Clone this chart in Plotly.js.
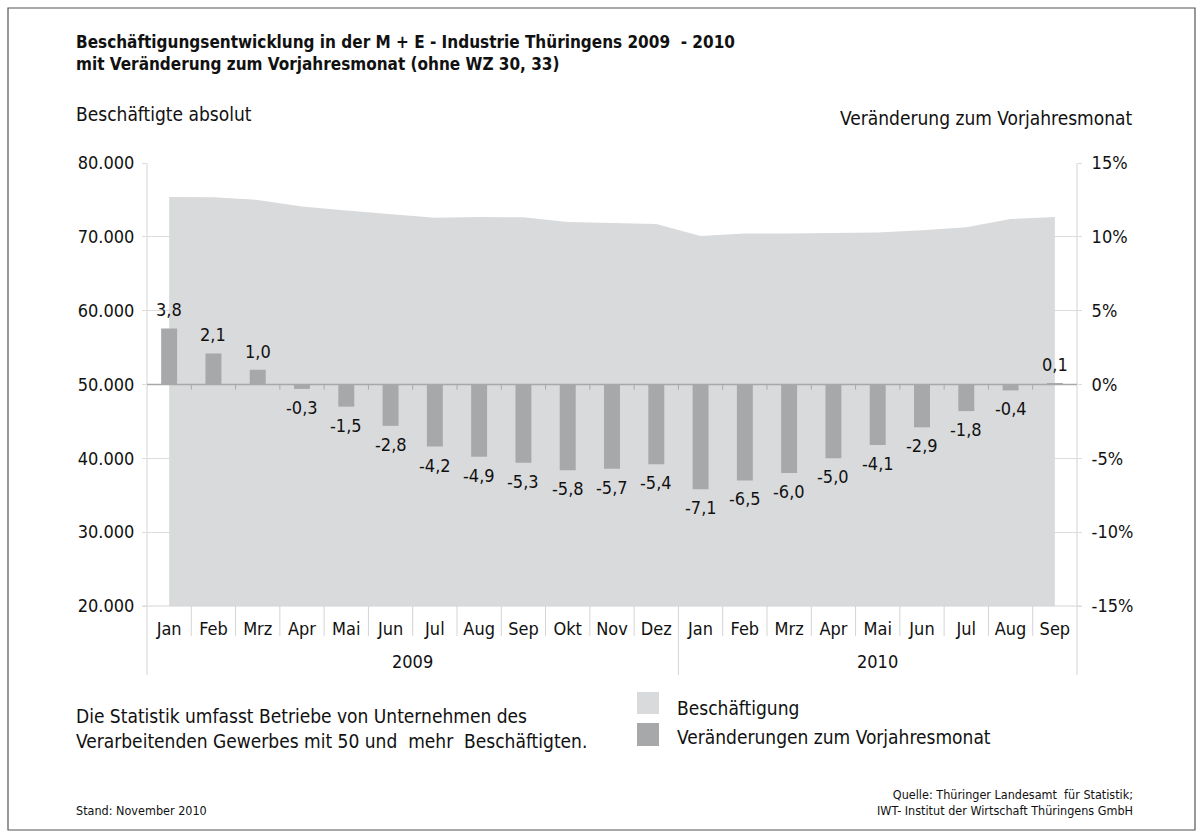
<!DOCTYPE html>
<html>
<head>
<meta charset="utf-8">
<script src="https://cdn.plot.ly/plotly-3.0.1.min.js"></script>
<style>
html,body{margin:0;padding:0;background:#fff;}
#chart{width:1203px;height:838px;}
</style>
</head>
<body>
<div id="chart"></div>
<script>
// ---- data ----
const months = ['Jan','Feb','Mrz','Apr','Mai','Jun','Jul','Aug','Sep','Okt','Nov','Dez',
                'Jan','Feb','Mrz','Apr','Mai','Jun','Jul','Aug','Sep'];
const yearLabels = ['2009', '2010'];
const yearFirstIndex = [0, 12];
const yearLastIndex = [11, 20];
const employment = [75400, 75350, 75000, 74100, 73550, 73050, 72600, 72700, 72650, 72000, 71850, 71750,
                    70100, 70450, 70450, 70500, 70600, 70900, 71300, 72400, 72700];
const changePct = [3.8, 2.1, 1.0, -0.3, -1.5, -2.8, -4.2, -4.9, -5.3, -5.8, -5.7, -5.4,
                   -7.1, -6.5, -6.0, -5.0, -4.1, -2.9, -1.8, -0.4, 0.1];
const leftTicks = [20000, 30000, 40000, 50000, 60000, 70000, 80000];
const leftTickText = ['20.000', '30.000', '40.000', '50.000', '60.000', '70.000', '80.000'];
const rightTicks = [-15, -10, -5, 0, 5, 10, 15];
const rightTickText = ['-15%', '-10%', '-5%', '0%', '5%', '10%', '15%'];

const FONT = '"Liberation Sans Narrow", "DejaVu Sans Condensed", "Roboto", sans-serif';
const AREA = '#d9dadc';
const BAR = '#a7a8aa';
const GRID = '#dcdcdc';

const xIdx = months.map((m, i) => i);

// plot box in pixels
const L = 147, R = 1077, T = 163, B = 606;
const W = 1203, H = 838;
const px = v => (v - L) / (R - L);
const py = v => (B - v) / (B - T);

const traces = [
  {
    type: 'scatter', x: xIdx, y: employment, mode: 'lines',
    line: {width: 0, color: AREA}, fill: 'tozeroy', fillcolor: AREA,
    hoverinfo: 'skip', showlegend: false, yaxis: 'y'
  },
  {
    type: 'bar', x: xIdx, y: changePct, yaxis: 'y2', width: 0.36,
    marker: {color: BAR, line: {width: 0}},
    hoverinfo: 'skip', showlegend: false
  }
];

const shapes = [];
// frame
shapes.push({type: 'rect', xref: 'paper', yref: 'paper',
  x0: px(8), x1: px(1195), y0: py(830), y1: py(8),
  line: {color: '#555', width: 1.2}, fillcolor: 'rgba(0,0,0,0)', layer: 'below'});
// left / right axis lines extended down through category labels
[0, 1].forEach(xp => shapes.push({type: 'line', xref: 'paper', yref: 'paper',
  x0: xp, x1: xp, y0: py(675), y1: 1, line: {color: '#d4d4d4', width: 1}, layer: 'above'}));
// category dividers
for (let i = 0; i < months.length - 1; i++) {
  const isYear = yearLastIndex.indexOf(i) >= 0;
  shapes.push({type: 'line', xref: 'x', yref: 'paper', x0: i + 0.5, x1: i + 0.5,
    y0: isYear ? py(675) : py(636), y1: 0, line: {color: '#d4d4d4', width: 1}});
  // ticks on zero line
  shapes.push({type: 'line', xref: 'x', yref: 'y2', x0: i + 0.5, x1: i + 0.5,
    y0: 0, y1: -0.35, line: {color: '#a8a8a8', width: 1}});
}
// zero line for percent axis
shapes.push({type: 'line', xref: 'paper', yref: 'y2', x0: 0, x1: 1, y0: 0, y1: 0,
  line: {color: '#a8a8a8', width: 1.5}});
// bottom line of plot
shapes.push({type: 'line', xref: 'paper', yref: 'paper', x0: px(143), x1: px(1081), y0: 0, y1: 0,
  line: {color: '#d4d4d4', width: 1}});
// legend swatches
shapes.push({type: 'rect', xref: 'paper', yref: 'paper', x0: px(637), x1: px(659), y0: py(714), y1: py(692),
  fillcolor: AREA, line: {width: 0}});
shapes.push({type: 'rect', xref: 'paper', yref: 'paper', x0: px(637), x1: px(659), y0: py(746), y1: py(723),
  fillcolor: BAR, line: {width: 0}});

const annotations = [];
// bar value labels
changePct.forEach((v, i) => annotations.push({
  text: v.toFixed(1).replace('.', ','), xref: 'x', yref: 'y2', x: i, y: v,
  xanchor: 'center', yanchor: v >= 0 ? 'bottom' : 'top', yshift: v >= 0 ? 6 : -6,
  showarrow: false, font: {family: FONT, size: 18, color: '#111'}
}));
const txt = (text, x, y, size, xanchor, extra) => Object.assign({
  text, xref: 'paper', yref: 'paper', x: px(x), y: py(y), xanchor: xanchor || 'left', yanchor: 'middle',
  showarrow: false, font: {family: FONT, size, color: '#111'}, align: xanchor === 'right' ? 'right' : 'left',
  xshift: xanchor === 'right' ? 2 : -2
}, extra || {});
annotations.push(txt('Beschäftigte absolut', 76, 114, 19));
annotations.push(txt('Veränderung zum Vorjahresmonat', 1133, 118, 19, 'right'));
annotations.push(txt('Beschäftigung', 677, 708, 19));
annotations.push(txt('Veränderungen zum Vorjahresmonat', 677, 737, 19));
annotations.push(txt('Die Statistik umfasst Betriebe von Unternehmen des<br>Verarbeitenden Gewerbes mit 50 und  mehr  Beschäftigten.', 76, 728, 19));
annotations.push(txt('Stand: November 2010', 76, 810, 12.5));
annotations.push(txt('Quelle: Thüringer Landesamt  für Statistik;<br>IWT- Institut der Wirtschaft Thüringens GmbH', 1133, 802, 12.5, 'right'));
yearLabels.forEach((y, k) => annotations.push({
  text: y, xref: 'x', yref: 'paper', x: (yearFirstIndex[k] + yearLastIndex[k]) / 2, y: py(661),
  xanchor: 'center', yanchor: 'middle', showarrow: false, font: {family: FONT, size: 18, color: '#111'}
}));

const layout = {
  width: W, height: H,
  margin: {l: L, r: W - R, t: T, b: H - B, pad: 0},
  paper_bgcolor: '#fff', plot_bgcolor: '#fff',
  separators: ',.',
  showlegend: false,
  font: {family: FONT, size: 18, color: '#111'},
  title: {
    text: '<b>Beschäftigungsentwicklung in der M + E - Industrie Thüringens 2009  - 2010<br>mit Veränderung zum Vorjahresmonat (ohne WZ 30, 33)</b>',
    x: 76 / W, xanchor: 'left', xref: 'container', y: 1 - 48 / H, yanchor: 'middle', yref: 'container',
    font: {family: FONT, size: 17, color: '#111'}
  },
  xaxis: {
    range: [-0.5, 20.5], tickvals: xIdx, ticktext: months, ticks: '', showgrid: false,
    zeroline: false, showline: false, tickfont: {family: FONT, size: 18, color: '#111'},
    ticklabelstandoff: 10, fixedrange: true
  },
  yaxis: {
    range: [20000, 80000], tickvals: leftTicks, ticktext: leftTickText,
    showgrid: true, gridcolor: GRID, gridwidth: 1, zeroline: false, showline: false,
    ticks: 'outside', ticklen: 4, tickcolor: GRID, ticklabelstandoff: 4,
    tickfont: {family: FONT, size: 18, color: '#111'}
  },
  yaxis2: {
    overlaying: 'y', side: 'right', range: [-15, 15], tickvals: rightTicks, ticktext: rightTickText,
    showgrid: false, zeroline: false, showline: false,
    ticks: 'outside', ticklen: 4, tickcolor: GRID, ticklabelstandoff: 6,
    tickfont: {family: FONT, size: 18, color: '#111'}
  },
  shapes, annotations
};

Plotly.newPlot('chart', traces, layout, {staticPlot: true, displayModeBar: false});
</script>
</body>
</html>
